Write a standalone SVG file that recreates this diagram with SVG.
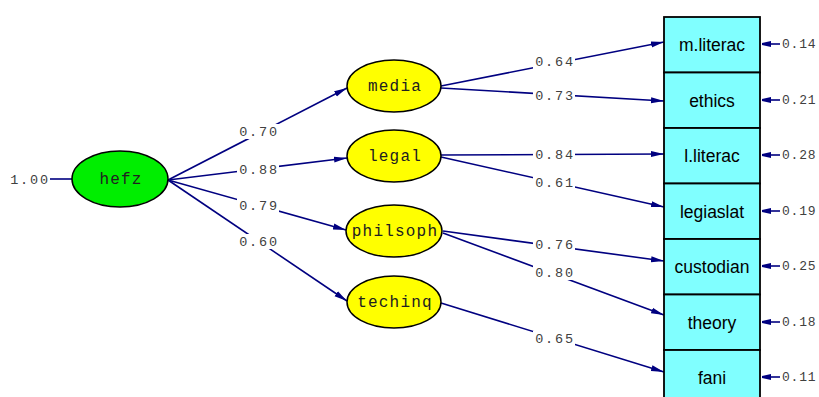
<svg xmlns="http://www.w3.org/2000/svg" width="819" height="397" viewBox="0 0 819 397">
<defs>
<marker id="ah" markerWidth="14" markerHeight="8" refX="13" refY="4" orient="auto" markerUnits="userSpaceOnUse">
<path d="M0,1 L13,4 L0,7 Z" fill="#000080"/>
</marker>
<marker id="ae" markerWidth="10" markerHeight="8" refX="9" refY="4" orient="auto" markerUnits="userSpaceOnUse">
<path d="M0,1 L9,3 L9,5 L0,7 Z" fill="#000080"/>
</marker>
<style>
.c{stroke:#000080;stroke-width:1.6;fill:none}
.lat{fill:#ffff00;stroke:#000;stroke-width:1.5}
.ob{fill:#80ffff;stroke:#000;stroke-width:1.8}
.lt{font-family:"Liberation Mono","Courier New",monospace;font-size:13.5px;fill:#404040;letter-spacing:1.8px;text-anchor:middle}
.et{font-family:"Liberation Mono","Courier New",monospace;font-size:13px;fill:#404040;letter-spacing:0.8px}
.nt{font-family:"Liberation Mono","Courier New",monospace;font-size:16px;fill:#202020;letter-spacing:1.2px;text-anchor:middle}
.bt{font-family:"Liberation Sans",Arial,sans-serif;font-size:17.5px;fill:#000;text-anchor:middle}
.bg{fill:#fff}
</style>
</defs>
<rect width="819" height="397" fill="#fff"/>
<g id="connectors">
<line class="c" x1="50" y1="179" x2="72" y2="179"/>
<line class="c" x1="168" y1="180" x2="347" y2="88" marker-end="url(#ah)"/>
<line class="c" x1="168" y1="180" x2="347" y2="158" marker-end="url(#ah)"/>
<line class="c" x1="168" y1="180" x2="346" y2="230" marker-end="url(#ah)"/>
<line class="c" x1="168" y1="180" x2="347" y2="301" marker-end="url(#ah)"/>
<line class="c" x1="441" y1="86" x2="664" y2="42" marker-end="url(#ah)"/>
<line class="c" x1="441" y1="88" x2="664" y2="101" marker-end="url(#ah)"/>
<line class="c" x1="441" y1="155" x2="664" y2="154" marker-end="url(#ah)"/>
<line class="c" x1="441" y1="157" x2="664" y2="207" marker-end="url(#ah)"/>
<line class="c" x1="443" y1="231" x2="664" y2="261" marker-end="url(#ah)"/>
<line class="c" x1="443" y1="233" x2="664" y2="315" marker-end="url(#ah)"/>
<line class="c" x1="441" y1="303" x2="664" y2="372" marker-end="url(#ah)"/>
<line class="c" x1="780" y1="44" x2="762" y2="44" marker-end="url(#ae)"/>
<line class="c" x1="780" y1="100" x2="762" y2="100" marker-end="url(#ae)"/>
<line class="c" x1="780" y1="155" x2="762" y2="155" marker-end="url(#ae)"/>
<line class="c" x1="780" y1="211" x2="762" y2="211" marker-end="url(#ae)"/>
<line class="c" x1="780" y1="266" x2="762" y2="266" marker-end="url(#ae)"/>
<line class="c" x1="780" y1="322" x2="762" y2="322" marker-end="url(#ae)"/>
<line class="c" x1="780" y1="377" x2="762" y2="377" marker-end="url(#ae)"/>
<g id="labels">
<rect class="bg" x="237" y="124" width="42" height="15"/><text class="lt" x="259" y="136">0.70</text>
<rect class="bg" x="237" y="162" width="42" height="15"/><text class="lt" x="259" y="174">0.88</text>
<rect class="bg" x="237" y="198" width="42" height="15"/><text class="lt" x="259" y="210">0.79</text>
<rect class="bg" x="237" y="234" width="42" height="15"/><text class="lt" x="259" y="246">0.60</text>
<rect class="bg" x="533" y="54" width="42" height="15"/><text class="lt" x="555" y="66">0.64</text>
<rect class="bg" x="533" y="88" width="42" height="15"/><text class="lt" x="555" y="100">0.73</text>
<rect class="bg" x="533" y="147" width="42" height="15"/><text class="lt" x="555" y="159">0.84</text>
<rect class="bg" x="533" y="175" width="42" height="15"/><text class="lt" x="555" y="187">0.61</text>
<rect class="bg" x="533" y="237" width="42" height="15"/><text class="lt" x="555" y="249">0.76</text>
<rect class="bg" x="533" y="265" width="42" height="15"/><text class="lt" x="555" y="277">0.80</text>
<rect class="bg" x="533" y="331" width="42" height="15"/><text class="lt" x="555" y="343">0.65</text>
<text class="lt" x="30" y="184">1.00</text>
<text class="et" x="782" y="48">0.14</text>
<text class="et" x="782" y="104">0.21</text>
<text class="et" x="782" y="159">0.28</text>
<text class="et" x="782" y="215">0.19</text>
<text class="et" x="782" y="270">0.25</text>
<text class="et" x="782" y="326">0.18</text>
<text class="et" x="782" y="381">0.11</text>
</g>
</g>
<g id="hefz"><ellipse cx="120" cy="179" rx="48" ry="28" fill="#00ee00" stroke="#000" stroke-width="1.5"/><text class="nt" x="121" y="184">hefz</text></g>
<g id="media"><ellipse class="lat" cx="394" cy="86" rx="47" ry="26"/><text class="nt" x="395" y="91">media</text></g>
<g id="legal"><ellipse class="lat" cx="394" cy="156" rx="47" ry="26"/><text class="nt" x="395" y="161">legal</text></g>
<g id="philsoph"><ellipse class="lat" cx="394" cy="231" rx="48" ry="26"/><text class="nt" x="395" y="236">philsoph</text></g>
<g id="techinq"><ellipse class="lat" cx="394" cy="302" rx="47" ry="26"/><text class="nt" x="395" y="307">techinq</text></g>
<g id="m.literac"><rect class="ob" x="664" y="17" width="96" height="55.5"/><text class="bt" x="712" y="51">m.literac</text></g>
<g id="ethics"><rect class="ob" x="664" y="72.5" width="96" height="55.5"/><text class="bt" x="712" y="107">ethics</text></g>
<g id="l.literac"><rect class="ob" x="664" y="128" width="96" height="55.5"/><text class="bt" x="712" y="162">l.literac</text></g>
<g id="legiaslat"><rect class="ob" x="664" y="183.5" width="96" height="55.5"/><text class="bt" x="712" y="218">legiaslat</text></g>
<g id="custodian"><rect class="ob" x="664" y="239" width="96" height="55.5"/><text class="bt" x="712" y="273">custodian</text></g>
<g id="theory"><rect class="ob" x="664" y="294.5" width="96" height="55.5"/><text class="bt" x="712" y="329">theory</text></g>
<g id="fani"><rect class="ob" x="664" y="350" width="96" height="55.5"/><text class="bt" x="712" y="384">fani</text></g>
</svg>
